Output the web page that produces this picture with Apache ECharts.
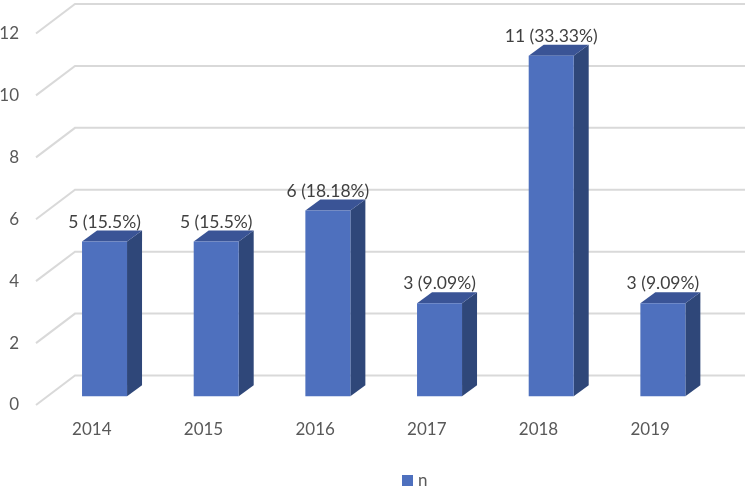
<!DOCTYPE html>
<html>
<head>
<meta charset="utf-8">
<title>n</title>
<style>
	html, body { margin: 0; padding: 0; background: #fff; }
	#bar { width: 748px; height: 488px; }
</style>
<script src="https://cdn.jsdelivr.net/npm/echarts@6/dist/echarts.min.js"></script>
</head>
<body>
<div id="bar"></div>
<script>
var years = ['2014', '2015', '2016', '2017', '2018', '2019'];
var counts = [5, 5, 6, 3, 11, 3];
var percents = ['15.5%', '15.5%', '18.18%', '9.09%', '33.33%', '9.09%'];
var yTicks = [0, 2, 4, 6, 8, 10, 12];

var font = 'Lato';
var wallDx = 39, wallDy = -29.5;	// front plane -> back wall
var barDx = 12.7, barDy = -8.8;		// front plane -> bar front
var sideDx = 15, sideDy = -11;		// bar depth
var barWidth = 45;

var bar = echarts.init(document.getElementById('bar'));

// 网格线：侧面斜线 + 背面横线
function renderWall(params, api) {
	var p = api.coord([0, api.value(0)]);
	var rect = params.coordSys;
	return {
		type: 'polyline',
		shape: {
			points: [
				[rect.x, p[1]],
				[rect.x + wallDx, p[1] + wallDy],
				[rect.x + rect.width + wallDx, p[1] + wallDy]
			]
		},
		style: { fill: null, stroke: '#d9d9d9', lineWidth: 2 }
	};
}

// 柱子：正面、顶面、侧面、标签
function renderBar(params, api) {
	var i = api.value(0);
	var top = api.coord([i, api.value(1)]);
	var base = api.coord([i, 0]);
	var x0 = top[0] + barDx - barWidth / 2;
	var x1 = x0 + barWidth;
	var y0 = top[1] + barDy;
	var y1 = base[1] + barDy;
	return {
		type: 'group',
		children: [{
			type: 'polygon',
			shape: { points: [[x1, y0], [x1 + sideDx, y0 + sideDy], [x1 + sideDx, y1 + sideDy], [x1, y1]] },
			style: { fill: '#2f4779' }
		}, {
			type: 'polygon',
			shape: { points: [[x0, y0], [x0 + sideDx, y0 + sideDy], [x1 + sideDx, y0 + sideDy], [x1, y0]] },
			style: { fill: '#3a5496' }
		}, {
			type: 'rect',
			shape: { x: x0, y: y0, width: barWidth, height: y1 - y0 },
			style: { fill: '#4e70be' }
		}, {
			type: 'text',
			z2: 10,
			style: {
				x: (x0 + x1) / 2,
				y: y0 - 19.5,
				text: counts[i] + ' (' + percents[i] + ')',
				align: 'center',
				verticalAlign: 'middle',
				fill: '#404040',
				font: '17.5px ' + font
			}
		}]
	};
}

var option = {
	backgroundColor: '#fff',
	animation: false,
	textStyle: { fontFamily: font },
	grid: { left: 36, right: 42, top: 33.5, bottom: 83, outerBoundsMode: 'none' },
	legend: {
		data: ['n'],
		left: 397,
		top: 467,
		icon: 'rect',
		itemWidth: 11,
		itemHeight: 11,
		itemGap: 5,
		textStyle: { color: '#595959', fontSize: 17, fontFamily: font }
	},
	xAxis: {
		type: 'category',
		data: years,
		axisLine: { show: false },
		axisTick: { show: false },
		splitLine: { show: false },
		axisLabel: { color: '#595959', fontSize: 17, fontFamily: font, margin: 16 }
	},
	yAxis: {
		type: 'value',
		min: 0,
		max: 12,
		interval: 2,
		axisLine: { show: false },
		axisTick: { show: false },
		splitLine: { show: false },
		axisLabel: { color: '#595959', fontSize: 17, fontFamily: font, margin: 17 }
	},
	series: [{
		name: 'wall',
		type: 'custom',
		silent: true,
		z: 1,
		renderItem: renderWall,
		encode: { y: 0 },
		data: yTicks.map(function(v) { return [v]; })
	}, {
		name: 'n',
		type: 'custom',
		z: 2,
		renderItem: renderBar,
		encode: { x: 0, y: 1 },
		itemStyle: { color: '#4e70be' },
		data: counts.map(function(v, i) { return [i, v]; })
	}]
};
bar.setOption(option);
</script>
</body>
</html>
